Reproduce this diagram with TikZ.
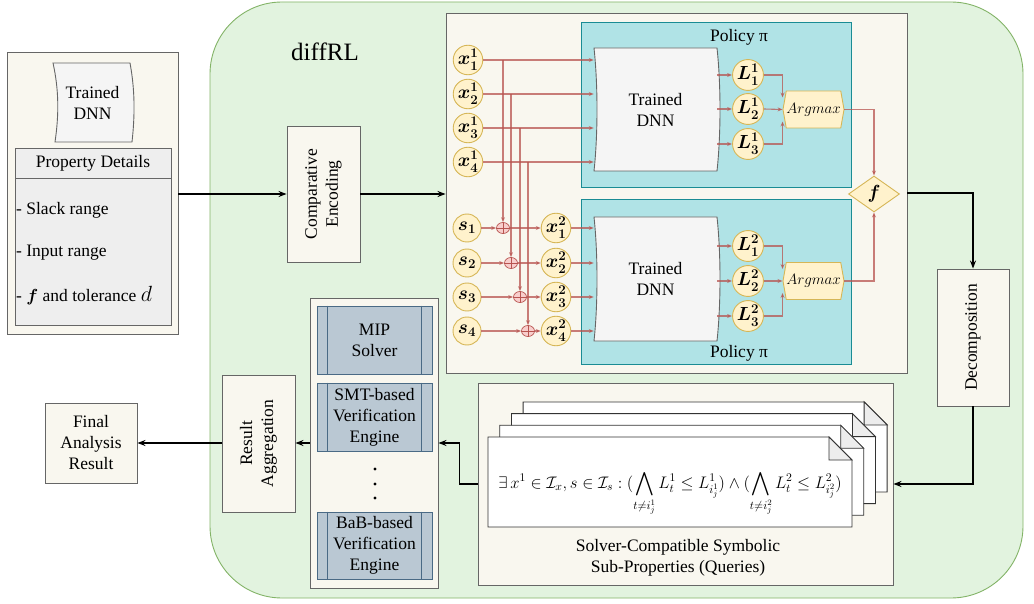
\RequirePackage{fix-cm}
\documentclass[tikz,border=0pt]{standalone}
\usepackage{amsmath,amssymb}
\usepackage{fontspec}
\setmainfont{Liberation Serif}
\usetikzlibrary{arrows.meta,shapes.geometric,shapes.symbols}
\definecolor{greenfill}{HTML}{E2F3DF}
\definecolor{greendraw}{HTML}{82B366}
\definecolor{cream}{HTML}{F9F7EF}
\definecolor{graydraw}{HTML}{666666}
\definecolor{tealfill}{HTML}{B0E3E6}
\definecolor{tealdraw}{HTML}{1A8C94}
\definecolor{yelfill}{HTML}{FFF2CC}
\definecolor{yeldraw}{HTML}{D6B656}
\definecolor{redfill}{HTML}{F8CECC}
\definecolor{reddraw}{HTML}{B85450}
\definecolor{procfill}{HTML}{BAC8D3}
\definecolor{procdraw}{HTML}{4A6A85}
\definecolor{dnnfill}{HTML}{F5F5F5}
\definecolor{propfill}{HTML}{EEEEEE}
\tikzset{
  box/.style={draw=graydraw, fill=cream, line width=0.9pt, inner sep=0pt, align=center},
  dnnpath/.style={draw=graydraw, fill=dnnfill, line width=0.9pt},
  circ/.style={circle, draw=yeldraw, fill=yelfill, line width=0.9pt, minimum size=28pt, inner sep=0pt, font=\fontsize{19}{19}\selectfont\boldmath},
  opl/.style={ellipse, draw=reddraw, fill=redfill, minimum width=13pt, minimum height=11pt, inner sep=0pt, line width=0.7pt},
  redarr/.style={draw=reddraw, line width=1.1pt, opacity=0.75, -{Stealth[length=5pt,width=4pt]}},
  blkarr/.style={draw=black, line width=1.6pt, -{Stealth[length=8pt,width=6pt]}},
  proc/.style={draw=procdraw, fill=procfill, line width=0.9pt, minimum width=115pt, inner sep=0pt, align=center},
  argm/.style={signal, signal to=west and east, signal pointer angle=160, draw=yeldraw, fill=yelfill, line width=0.9pt, minimum width=55pt, minimum height=37pt, inner sep=0pt, font=\fontsize{15}{15}\selectfont},
  teal/.style={draw=tealdraw, fill=tealfill, line width=1pt, inner sep=0pt},
  docsty/.style={draw=black!80, fill=white, line width=0.8pt},
  foldsty/.style={draw=black!80, fill=black!7, line width=0.8pt},
}
\begin{document}
\begin{tikzpicture}[x=1pt,y=-1pt,font=\fontsize{17.5}{21}\selectfont]
\useasboundingbox (0,0) rectangle (1034,604);

% diffRL region
\node[draw=greendraw, fill=greenfill, rounded corners=72pt, line width=0.9pt, minimum width=813pt, minimum height=596pt, inner sep=0pt] (diff) at (616.5,300) {};
\node[font=\fontsize{25}{25}\selectfont] (difflbl) at (325,52) {diffRL};

% left panel
\node[box, minimum width=171pt, minimum height=282pt] (lp) at (92.5,193.5) {};
\draw[dnnpath] (53,63) -- (130,63) .. controls (135,90) and (135,115) .. (132,142) -- (55,142) .. controls (59,115) and (59,90) .. (53,63) -- cycle;
\node[align=center, minimum width=79pt, minimum height=79pt, inner sep=0pt] (tdnn) at (92.5,102.5) {Trained\\DNN};
\node[draw=graydraw, fill=propfill, line width=0.9pt, minimum width=156pt, minimum height=30pt, inner sep=0pt] (ph) at (93,163) {Property Details};
\node[draw=graydraw, fill=propfill, line width=0.9pt, minimum width=156pt, minimum height=147pt, inner sep=0pt] (pbody) at (93,251.5) {};
\node[anchor=west, inner sep=0pt] (it1) at (16,210) {- Slack range};
\node[anchor=west, inner sep=0pt] (it2) at (16,253) {- Input range};
\node[anchor=west, inner sep=0pt] (it3) at (16,296) {- {\boldmath$f$} and tolerance {\fontsize{22}{22}\selectfont$d$}};

% comparative encoding
\node[box, minimum width=73pt, minimum height=136pt] (ce) at (323.5,194) {};
\node[rotate=90, align=center] (cetxt) at (ce) {Comparative\\Encoding};

% big policy box
\node[box, minimum width=461pt, minimum height=360pt] (bb) at (676.5,193) {};
\node[teal, minimum width=270pt, minimum height=165pt] (pt1) at (716,105.5) {};
\node[teal, minimum width=270pt, minimum height=164pt] (pt2) at (716,282) {};
\node (pol1) at (739,37) {Policy π};
\node (pol2) at (739,353) {Policy π};

% trained DNNs
\draw[dnnpath] (594,48) -- (717,48) .. controls (721,85) and (721,134) .. (717,171) -- (594,171) .. controls (598,134) and (598,85) .. (594,48) -- cycle;
\node[align=center, minimum width=123pt, minimum height=123pt, inner sep=0pt] (d1) at (655.5,109.5) {Trained\\DNN};
\draw[dnnpath] (594,217) -- (717,217) .. controls (721,254) and (721,304) .. (717,341) -- (594,341) .. controls (598,304) and (598,254) .. (594,217) -- cycle;
\node[align=center, minimum width=123pt, minimum height=124pt, inner sep=0pt] (d2) at (655.5,279) {Trained\\DNN};

% input circles
\node[circ] (xa1) at (468,60) {$x^1_1$};
\node[circ] (xa2) at (468,94) {$x^1_2$};
\node[circ] (xa3) at (468,128) {$x^1_3$};
\node[circ] (xa4) at (468,162) {$x^1_4$};
\node[circ] (s1) at (467,228) {$s_1$};
\node[circ] (s2) at (467,263) {$s_2$};
\node[circ] (s3) at (467,297) {$s_3$};
\node[circ] (s4) at (467,331) {$s_4$};
\node[circ] (xb1) at (556,228) {$x^2_1$};
\node[circ] (xb2) at (556,263) {$x^2_2$};
\node[circ] (xb3) at (556,297) {$x^2_3$};
\node[circ] (xb4) at (556,331) {$x^2_4$};
\node[opl] (o1) at (503,228) {};
\node[opl] (o2) at (511,263) {};
\node[opl] (o3) at (520,297) {};
\node[opl] (o4) at (528,331) {};
\foreach \k in {1,2,3,4}{
  \draw[reddraw, line width=0.6pt] (o\k.north) -- (o\k.south) (o\k.west) -- (o\k.east);
  \draw[redarr] (xa\k.east) -- (xa\k.east -| d1.west);
  \draw[redarr] (xa\k.east -| o\k.north) -- (o\k.north);
  \draw[redarr] (s\k.east) -- (o\k.west);
  \draw[redarr] (o\k.east) -- (xb\k.west);
  \draw[redarr] (xb\k.east) -- (xb\k.east -| d2.west);
}

% logits
\node[circ] (la1) at (748,75) {$L^1_1$};
\node[circ] (la2) at (748,109) {$L^1_2$};
\node[circ] (la3) at (748,144) {$L^1_3$};
\node[circ] (lb1) at (748,246) {$L^2_1$};
\node[circ] (lb2) at (748,281) {$L^2_2$};
\node[circ] (lb3) at (748,316) {$L^2_3$};
\foreach \k in {1,2,3}{
  \draw[redarr] (la\k.west -| d1.east) -- (la\k.west);
  \draw[redarr] (lb\k.west -| d2.east) -- (lb\k.west);
}
\node[argm] (a1) at (813.5,109.5) {$Argmax$};
\node[argm] (a2) at (813.5,281) {$Argmax$};
\draw[redarr] (la1.east) -| ([yshift=12pt]a1.west);
\draw[redarr] (la2.east) -- (a1.west);
\draw[redarr] (la3.east) -| ([yshift=-12pt]a1.west);
\draw[redarr] (lb1.east) -| ([yshift=12pt]a2.west);
\draw[redarr] (lb2.east) -- (a2.west);
\draw[redarr] (lb3.east) -| ([yshift=-12pt]a2.west);
\node[diamond, draw=yeldraw, fill=yelfill, line width=0.9pt, minimum width=51pt, minimum height=36pt, inner sep=0pt, font=\fontsize{19}{19}\selectfont\boldmath] (f) at (874,194) {$f$};
\draw[redarr] (a1.east) -| (f.north);
\draw[redarr] (a2.east) -| (f.south);

% main arrows
\draw[blkarr] (lp.east |- ce.west) -- (ce.west);
\draw[blkarr] (ce.east) -- (ce.east -| bb.west);

% decomposition
\node[box, minimum width=72pt, minimum height=137pt] (dec) at (973,337.5) {};
\node[rotate=90] (dectxt) at (dec) {Decomposition};
\draw[blkarr] (bb.east) -| (dec.north);

% queries
\node[box, minimum width=415pt, minimum height=202pt] (q) at (685.5,484) {};
\foreach \i in {3,2,1,0}{
  \draw[docsty] ({488+11.7*\i},{437-11.7*\i}) -- ({829+11.7*\i},{437-11.7*\i}) -- ({852+11.7*\i},{460-11.7*\i}) -- ({852+11.7*\i},{527-11.7*\i}) -- ({488+11.7*\i},{527-11.7*\i}) -- cycle;
  \draw[foldsty] ({829+11.7*\i},{437-11.7*\i}) -- ({829+11.7*\i},{460-11.7*\i}) -- ({852+11.7*\i},{460-11.7*\i}) -- cycle;
}
\node[font=\fontsize{16.7}{16.7}\selectfont, anchor=base, inner sep=0pt] (formula) at (670,488) {$\displaystyle \exists\, x^1 \in \mathcal{I}_x, s \in \mathcal{I}_s : (\bigwedge_{t\neq i_j^1} L_t^1 \le L_{i_j^1}^1) \wedge (\bigwedge_{t\neq i_j^2} L_t^2 \le L_{i_j^2}^2)$};
\node[align=center] (qcap) at (678,557.5) {Solver-Compatible Symbolic\\Sub-Properties (Queries)};
\draw[blkarr] (dec.south) |- (q.east);

% solvers
\node[box, minimum width=128pt, minimum height=290pt] (st) at (374,443) {};
\node[proc, minimum height=68pt] (mip) at (374.5,340) {MIP\\Solver};
\node[proc, minimum height=68pt] (smt) at (374.5,417) {SMT-based\\Verification\\Engine};
\node[proc, minimum height=67pt] (bab) at (374.5,545.5) {BaB-based\\Verification\\Engine};
\foreach \n in {mip,smt,bab}{
  \draw[procdraw, line width=0.9pt] ([xshift=11pt]\n.north west) -- ([xshift=11pt]\n.south west);
  \draw[procdraw, line width=0.9pt] ([xshift=-11pt]\n.north east) -- ([xshift=-11pt]\n.south east);
}
\fill (375,469) circle (1.7);
\fill (375,484) circle (1.7);
\fill (375,498) circle (1.7);
\draw[blkarr] (q.west) -- ([xshift=-18pt]q.west) |- (st.east);

% result aggregation
\node[box, minimum width=73pt, minimum height=137pt] (ra) at (258.5,443.5) {};
\node[rotate=90, align=center] (ratxt) at (ra) {Result\\Aggregation};
\draw[blkarr] (st.west) -- (st.west -| ra.east);
\node[box, minimum width=92pt, minimum height=80pt] (fin) at (91,443) {Final\\Analysis\\Result};
\draw[blkarr] (ra.west |- fin.east) -- (fin.east);
\end{tikzpicture}
\end{document}
